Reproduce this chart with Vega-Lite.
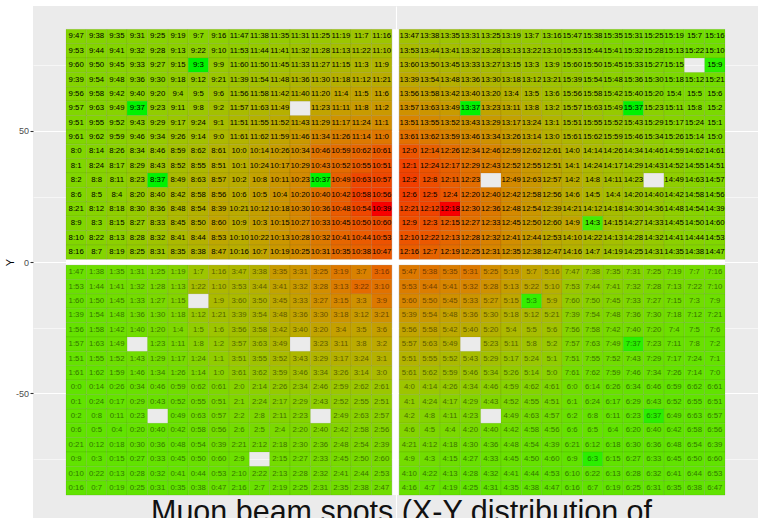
{
  "$schema": "https://vega.github.io/schema/vega-lite/v6.json",
  "width": 725,
  "height": 512.4,
  "autosize": {"type": "none"},
  "padding": {"left": 33, "top": 6, "right": 11, "bottom": 10},
  "background": "#ffffff",
  "config": {"view": {"fill": "#ebebeb", "stroke": null}},
  "title": {"text": "Muon beam spots (X-Y distribution of", "orient": "bottom", "anchor": "start", "frame": "group", "fontSize": 30.5, "font": "Liberation Sans", "fontWeight": "normal", "color": "#111111", "baseline": "alphabetic", "offset": 4, "dx": 118},
  "datasets": {
    "cols": [{"c":1,"x":-15.68},{"c":2,"x":-14.68},{"c":3,"x":-13.68},{"c":4,"x":-12.68},{"c":5,"x":-11.68},{"c":6,"x":-10.68},{"c":7,"x":-9.68},{"c":8,"x":-8.68},{"c":9,"x":-7.68},{"c":10,"x":-6.68},{"c":11,"x":-5.68},{"c":12,"x":-4.68},{"c":13,"x":-3.68},{"c":14,"x":-2.68},{"c":15,"x":-1.68},{"c":16,"x":-0.68},{"c":17,"x":0.68},{"c":18,"x":1.68},{"c":19,"x":2.68},{"c":20,"x":3.68},{"c":21,"x":4.68},{"c":22,"x":5.68},{"c":23,"x":6.68},{"c":24,"x":7.68},{"c":25,"x":8.68},{"c":26,"x":9.68},{"c":27,"x":10.68},{"c":28,"x":11.68},{"c":29,"x":12.68},{"c":30,"x":13.68},{"c":31,"x":14.68},{"c":32,"x":15.68}],
    "rows": [{"r":1,"y":85.96},{"r":2,"y":80.49},{"r":3,"y":75.01},{"r":4,"y":69.54},{"r":5,"y":64.06},{"r":6,"y":58.59},{"r":7,"y":53.11},{"r":8,"y":47.64},{"r":9,"y":42.16},{"r":10,"y":36.69},{"r":11,"y":31.21},{"r":12,"y":25.74},{"r":13,"y":20.26},{"r":14,"y":14.79},{"r":15,"y":9.31},{"r":16,"y":3.84},{"r":17,"y":-3.84},{"r":18,"y":-9.31},{"r":19,"y":-14.79},{"r":20,"y":-20.26},{"r":21,"y":-25.74},{"r":22,"y":-31.21},{"r":23,"y":-36.69},{"r":24,"y":-42.16},{"r":25,"y":-47.64},{"r":26,"y":-53.11},{"r":27,"y":-58.59},{"r":28,"y":-64.06},{"r":29,"y":-69.54},{"r":30,"y":-75.01},{"r":31,"y":-80.49},{"r":32,"y":-85.96}],
    "cells": [
{"r":1,"c":1,"l":"9:47","v":20},{"r":1,"c":2,"l":"9:38","v":20},{"r":1,"c":3,"l":"9:35","v":20},{"r":1,"c":4,"l":"9:31","v":21},{"r":1,"c":5,"l":"9:25","v":21},{"r":1,"c":6,"l":"9:19","v":22},{"r":1,"c":7,"l":"9:7","v":21},{"r":1,"c":8,"l":"9:16","v":23},{"r":1,"c":9,"l":"11:47","v":22},{"r":1,"c":10,"l":"11:38","v":24},{"r":1,"c":11,"l":"11:35","v":26},{"r":1,"c":12,"l":"11:31","v":27},{"r":1,"c":13,"l":"11:25","v":28},{"r":1,"c":14,"l":"11:19","v":29},{"r":1,"c":15,"l":"11:7","v":30},{"r":1,"c":16,"l":"11:16","v":30},{"r":1,"c":17,"l":"13:47","v":32},{"r":1,"c":18,"l":"13:38","v":31},{"r":1,"c":19,"l":"13:35","v":30},{"r":1,"c":20,"l":"13:31","v":29},{"r":1,"c":21,"l":"13:25","v":28},{"r":1,"c":22,"l":"13:19","v":27},{"r":1,"c":23,"l":"13:7","v":26},{"r":1,"c":24,"l":"13:16","v":24},{"r":1,"c":25,"l":"15:47","v":22},{"r":1,"c":26,"l":"15:38","v":20},{"r":1,"c":27,"l":"15:35","v":18},{"r":1,"c":28,"l":"15:31","v":17},{"r":1,"c":29,"l":"15:25","v":16},{"r":1,"c":30,"l":"15:19","v":15},{"r":1,"c":31,"l":"15:7","v":14},{"r":1,"c":32,"l":"15:16","v":13},
{"r":2,"c":1,"l":"9:53","v":20},{"r":2,"c":2,"l":"9:44","v":20},{"r":2,"c":3,"l":"9:41","v":20},{"r":2,"c":4,"l":"9:32","v":21},{"r":2,"c":5,"l":"9:28","v":22},{"r":2,"c":6,"l":"9:13","v":23},{"r":2,"c":7,"l":"9:22","v":23},{"r":2,"c":8,"l":"9:10","v":25},{"r":2,"c":9,"l":"11:53","v":25},{"r":2,"c":10,"l":"11:44","v":27},{"r":2,"c":11,"l":"11:41","v":29},{"r":2,"c":12,"l":"11:32","v":31},{"r":2,"c":13,"l":"11:28","v":32},{"r":2,"c":14,"l":"11:13","v":34},{"r":2,"c":15,"l":"11:22","v":35},{"r":2,"c":16,"l":"11:10","v":35},{"r":2,"c":17,"l":"13:53","v":36},{"r":2,"c":18,"l":"13:44","v":35},{"r":2,"c":19,"l":"13:41","v":34},{"r":2,"c":20,"l":"13:32","v":33},{"r":2,"c":21,"l":"13:28","v":31},{"r":2,"c":22,"l":"13:13","v":30},{"r":2,"c":23,"l":"13:22","v":29},{"r":2,"c":24,"l":"13:10","v":27},{"r":2,"c":25,"l":"15:53","v":24},{"r":2,"c":26,"l":"15:44","v":22},{"r":2,"c":27,"l":"15:41","v":20},{"r":2,"c":28,"l":"15:32","v":18},{"r":2,"c":29,"l":"15:28","v":17},{"r":2,"c":30,"l":"15:13","v":16},{"r":2,"c":31,"l":"15:22","v":15},{"r":2,"c":32,"l":"15:10","v":14},
{"r":3,"c":1,"l":"9:60","v":20},{"r":3,"c":2,"l":"9:50","v":20},{"r":3,"c":3,"l":"9:45","v":21},{"r":3,"c":4,"l":"9:33","v":22},{"r":3,"c":5,"l":"9:27","v":23},{"r":3,"c":6,"l":"9:15","v":24},{"r":3,"c":7,"l":"9:3","v":0},{"r":3,"c":8,"l":"9:9","v":27},{"r":3,"c":9,"l":"11:60","v":28},{"r":3,"c":10,"l":"11:50","v":30},{"r":3,"c":11,"l":"11:45","v":32},{"r":3,"c":12,"l":"11:33","v":34},{"r":3,"c":13,"l":"11:27","v":36},{"r":3,"c":14,"l":"11:15","v":38},{"r":3,"c":15,"l":"11:3","v":39},{"r":3,"c":16,"l":"11:9","v":40},{"r":3,"c":17,"l":"13:60","v":41},{"r":3,"c":18,"l":"13:50","v":40},{"r":3,"c":19,"l":"13:45","v":38},{"r":3,"c":20,"l":"13:33","v":37},{"r":3,"c":21,"l":"13:27","v":35},{"r":3,"c":22,"l":"13:15","v":33},{"r":3,"c":23,"l":"13:3","v":31},{"r":3,"c":24,"l":"13:9","v":29},{"r":3,"c":25,"l":"15:60","v":26},{"r":3,"c":26,"l":"15:50","v":24},{"r":3,"c":27,"l":"15:45","v":22},{"r":3,"c":28,"l":"15:33","v":20},{"r":3,"c":29,"l":"15:27","v":18},{"r":3,"c":30,"l":"15:15","v":17},{"r":3,"c":32,"l":"15:9","v":2},
{"r":4,"c":1,"l":"9:39","v":20},{"r":4,"c":2,"l":"9:54","v":20},{"r":4,"c":3,"l":"9:48","v":21},{"r":4,"c":4,"l":"9:36","v":22},{"r":4,"c":5,"l":"9:30","v":23},{"r":4,"c":6,"l":"9:18","v":25},{"r":4,"c":7,"l":"9:12","v":26},{"r":4,"c":8,"l":"9:21","v":29},{"r":4,"c":9,"l":"11:39","v":31},{"r":4,"c":10,"l":"11:54","v":33},{"r":4,"c":11,"l":"11:48","v":36},{"r":4,"c":12,"l":"11:36","v":39},{"r":4,"c":13,"l":"11:30","v":41},{"r":4,"c":14,"l":"11:18","v":43},{"r":4,"c":15,"l":"11:12","v":44},{"r":4,"c":16,"l":"11:21","v":45},{"r":4,"c":17,"l":"13:39","v":47},{"r":4,"c":18,"l":"13:54","v":45},{"r":4,"c":19,"l":"13:48","v":43},{"r":4,"c":20,"l":"13:36","v":41},{"r":4,"c":21,"l":"13:30","v":39},{"r":4,"c":22,"l":"13:18","v":37},{"r":4,"c":23,"l":"13:12","v":34},{"r":4,"c":24,"l":"13:21","v":31},{"r":4,"c":25,"l":"15:39","v":28},{"r":4,"c":26,"l":"15:54","v":25},{"r":4,"c":27,"l":"15:48","v":23},{"r":4,"c":28,"l":"15:36","v":21},{"r":4,"c":29,"l":"15:30","v":19},{"r":4,"c":30,"l":"15:18","v":17},{"r":4,"c":31,"l":"15:12","v":16},{"r":4,"c":32,"l":"15:21","v":15},
{"r":5,"c":1,"l":"9:56","v":20},{"r":5,"c":2,"l":"9:58","v":20},{"r":5,"c":3,"l":"9:42","v":21},{"r":5,"c":4,"l":"9:40","v":22},{"r":5,"c":5,"l":"9:20","v":24},{"r":5,"c":6,"l":"9:4","v":26},{"r":5,"c":7,"l":"9:5","v":27},{"r":5,"c":8,"l":"9:6","v":31},{"r":5,"c":9,"l":"11:56","v":33},{"r":5,"c":10,"l":"11:58","v":36},{"r":5,"c":11,"l":"11:42","v":39},{"r":5,"c":12,"l":"11:40","v":42},{"r":5,"c":13,"l":"11:20","v":46},{"r":5,"c":14,"l":"11:4","v":49},{"r":5,"c":15,"l":"11:5","v":50},{"r":5,"c":16,"l":"11:6","v":51},{"r":5,"c":17,"l":"13:56","v":53},{"r":5,"c":18,"l":"13:58","v":51},{"r":5,"c":19,"l":"13:42","v":49},{"r":5,"c":20,"l":"13:40","v":47},{"r":5,"c":21,"l":"13:20","v":44},{"r":5,"c":22,"l":"13:4","v":42},{"r":5,"c":23,"l":"13:5","v":38},{"r":5,"c":24,"l":"13:6","v":34},{"r":5,"c":25,"l":"15:56","v":31},{"r":5,"c":26,"l":"15:58","v":28},{"r":5,"c":27,"l":"15:42","v":25},{"r":5,"c":28,"l":"15:40","v":22},{"r":5,"c":29,"l":"15:20","v":20},{"r":5,"c":30,"l":"15:4","v":18},{"r":5,"c":31,"l":"15:5","v":17},{"r":5,"c":32,"l":"15:6","v":16},
{"r":6,"c":1,"l":"9:57","v":19},{"r":6,"c":2,"l":"9:63","v":20},{"r":6,"c":3,"l":"9:49","v":21},{"r":6,"c":4,"l":"9:37","v":0},{"r":6,"c":5,"l":"9:23","v":25},{"r":6,"c":6,"l":"9:11","v":27},{"r":6,"c":7,"l":"9:8","v":29},{"r":6,"c":8,"l":"9:2","v":33},{"r":6,"c":9,"l":"11:57","v":36},{"r":6,"c":10,"l":"11:63","v":39},{"r":6,"c":11,"l":"11:49","v":43},{"r":6,"c":13,"l":"11:23","v":50},{"r":6,"c":14,"l":"11:11","v":54},{"r":6,"c":15,"l":"11:8","v":55},{"r":6,"c":16,"l":"11:2","v":56},{"r":6,"c":17,"l":"13:57","v":60},{"r":6,"c":18,"l":"13:63","v":58},{"r":6,"c":19,"l":"13:49","v":55},{"r":6,"c":20,"l":"13:37","v":0},{"r":6,"c":21,"l":"13:23","v":50},{"r":6,"c":22,"l":"13:11","v":47},{"r":6,"c":23,"l":"13:8","v":42},{"r":6,"c":24,"l":"13:2","v":37},{"r":6,"c":25,"l":"15:57","v":34},{"r":6,"c":26,"l":"15:63","v":30},{"r":6,"c":27,"l":"15:49","v":27},{"r":6,"c":28,"l":"15:37","v":0},{"r":6,"c":29,"l":"15:23","v":22},{"r":6,"c":30,"l":"15:11","v":20},{"r":6,"c":31,"l":"15:8","v":18},{"r":6,"c":32,"l":"15:2","v":17},
{"r":7,"c":1,"l":"9:51","v":19},{"r":7,"c":2,"l":"9:55","v":20},{"r":7,"c":3,"l":"9:52","v":21},{"r":7,"c":4,"l":"9:43","v":23},{"r":7,"c":5,"l":"9:29","v":26},{"r":7,"c":6,"l":"9:17","v":29},{"r":7,"c":7,"l":"9:24","v":31},{"r":7,"c":8,"l":"9:1","v":35},{"r":7,"c":9,"l":"11:51","v":38},{"r":7,"c":10,"l":"11:55","v":42},{"r":7,"c":11,"l":"11:52","v":46},{"r":7,"c":12,"l":"11:43","v":50},{"r":7,"c":13,"l":"11:29","v":55},{"r":7,"c":14,"l":"11:17","v":59},{"r":7,"c":15,"l":"11:24","v":61},{"r":7,"c":16,"l":"11:1","v":62},{"r":7,"c":17,"l":"13:51","v":67},{"r":7,"c":18,"l":"13:55","v":64},{"r":7,"c":19,"l":"13:52","v":61},{"r":7,"c":20,"l":"13:43","v":58},{"r":7,"c":21,"l":"13:29","v":55},{"r":7,"c":22,"l":"13:17","v":51},{"r":7,"c":23,"l":"13:24","v":46},{"r":7,"c":24,"l":"13:1","v":40},{"r":7,"c":25,"l":"15:51","v":36},{"r":7,"c":26,"l":"15:55","v":32},{"r":7,"c":27,"l":"15:52","v":29},{"r":7,"c":28,"l":"15:43","v":26},{"r":7,"c":29,"l":"15:29","v":23},{"r":7,"c":30,"l":"15:17","v":21},{"r":7,"c":31,"l":"15:24","v":19},{"r":7,"c":32,"l":"15:1","v":17},
{"r":8,"c":1,"l":"9:61","v":19},{"r":8,"c":2,"l":"9:62","v":20},{"r":8,"c":3,"l":"9:59","v":22},{"r":8,"c":4,"l":"9:46","v":24},{"r":8,"c":5,"l":"9:34","v":27},{"r":8,"c":6,"l":"9:26","v":31},{"r":8,"c":7,"l":"9:14","v":33},{"r":8,"c":8,"l":"9:0","v":38},{"r":8,"c":9,"l":"11:61","v":41},{"r":8,"c":10,"l":"11:62","v":45},{"r":8,"c":11,"l":"11:59","v":50},{"r":8,"c":12,"l":"11:46","v":56},{"r":8,"c":13,"l":"11:34","v":65},{"r":8,"c":14,"l":"11:26","v":69},{"r":8,"c":15,"l":"11:14","v":72},{"r":8,"c":16,"l":"11:0","v":73},{"r":8,"c":17,"l":"13:61","v":76},{"r":8,"c":18,"l":"13:62","v":72},{"r":8,"c":19,"l":"13:59","v":68},{"r":8,"c":20,"l":"13:46","v":64},{"r":8,"c":21,"l":"13:34","v":60},{"r":8,"c":22,"l":"13:26","v":55},{"r":8,"c":23,"l":"13:14","v":49},{"r":8,"c":24,"l":"13:0","v":43},{"r":8,"c":25,"l":"15:61","v":39},{"r":8,"c":26,"l":"15:62","v":35},{"r":8,"c":27,"l":"15:59","v":31},{"r":8,"c":28,"l":"15:46","v":28},{"r":8,"c":29,"l":"15:34","v":25},{"r":8,"c":30,"l":"15:26","v":22},{"r":8,"c":31,"l":"15:14","v":20},{"r":8,"c":32,"l":"15:0","v":18},
{"r":9,"c":1,"l":"8:0","v":19},{"r":9,"c":2,"l":"8:14","v":20},{"r":9,"c":3,"l":"8:26","v":22},{"r":9,"c":4,"l":"8:34","v":25},{"r":9,"c":5,"l":"8:46","v":28},{"r":9,"c":6,"l":"8:59","v":33},{"r":9,"c":7,"l":"8:62","v":36},{"r":9,"c":8,"l":"8:61","v":41},{"r":9,"c":9,"l":"10:0","v":43},{"r":9,"c":10,"l":"10:14","v":48},{"r":9,"c":11,"l":"10:26","v":54},{"r":9,"c":12,"l":"10:34","v":60},{"r":9,"c":13,"l":"10:46","v":74},{"r":9,"c":14,"l":"10:59","v":77},{"r":9,"c":15,"l":"10:62","v":80},{"r":9,"c":16,"l":"10:61","v":84},{"r":9,"c":17,"l":"12:0","v":86},{"r":9,"c":18,"l":"12:14","v":82},{"r":9,"c":19,"l":"12:26","v":77},{"r":9,"c":20,"l":"12:34","v":72},{"r":9,"c":21,"l":"12:46","v":67},{"r":9,"c":22,"l":"12:59","v":61},{"r":9,"c":23,"l":"12:62","v":54},{"r":9,"c":24,"l":"12:61","v":46},{"r":9,"c":25,"l":"14:0","v":42},{"r":9,"c":26,"l":"14:14","v":37},{"r":9,"c":27,"l":"14:26","v":33},{"r":9,"c":28,"l":"14:34","v":29},{"r":9,"c":29,"l":"14:46","v":26},{"r":9,"c":30,"l":"14:59","v":23},{"r":9,"c":31,"l":"14:62","v":21},{"r":9,"c":32,"l":"14:61","v":19},
{"r":10,"c":1,"l":"8:1","v":19},{"r":10,"c":2,"l":"8:24","v":21},{"r":10,"c":3,"l":"8:17","v":23},{"r":10,"c":4,"l":"8:29","v":26},{"r":10,"c":5,"l":"8:43","v":30},{"r":10,"c":6,"l":"8:52","v":35},{"r":10,"c":7,"l":"8:55","v":38},{"r":10,"c":8,"l":"8:51","v":43},{"r":10,"c":9,"l":"10:1","v":44},{"r":10,"c":10,"l":"10:24","v":50},{"r":10,"c":11,"l":"10:17","v":56},{"r":10,"c":12,"l":"10:29","v":63},{"r":10,"c":13,"l":"10:43","v":74},{"r":10,"c":14,"l":"10:52","v":78},{"r":10,"c":15,"l":"10:55","v":84},{"r":10,"c":16,"l":"10:51","v":88},{"r":10,"c":17,"l":"12:1","v":91},{"r":10,"c":18,"l":"12:24","v":87},{"r":10,"c":19,"l":"12:17","v":82},{"r":10,"c":20,"l":"12:29","v":76},{"r":10,"c":21,"l":"12:43","v":70},{"r":10,"c":22,"l":"12:52","v":63},{"r":10,"c":23,"l":"12:55","v":56},{"r":10,"c":24,"l":"12:51","v":48},{"r":10,"c":25,"l":"14:1","v":44},{"r":10,"c":26,"l":"14:24","v":38},{"r":10,"c":27,"l":"14:17","v":34},{"r":10,"c":28,"l":"14:29","v":30},{"r":10,"c":29,"l":"14:43","v":27},{"r":10,"c":30,"l":"14:52","v":24},{"r":10,"c":31,"l":"14:55","v":21},{"r":10,"c":32,"l":"14:51","v":19},
{"r":11,"c":1,"l":"8:2","v":19},{"r":11,"c":2,"l":"8:8","v":21},{"r":11,"c":3,"l":"8:11","v":23},{"r":11,"c":4,"l":"8:23","v":26},{"r":11,"c":5,"l":"8:37","v":0},{"r":11,"c":6,"l":"8:49","v":36},{"r":11,"c":7,"l":"8:63","v":40},{"r":11,"c":8,"l":"8:57","v":45},{"r":11,"c":9,"l":"10:2","v":45},{"r":11,"c":10,"l":"10:8","v":51},{"r":11,"c":11,"l":"10:11","v":57},{"r":11,"c":12,"l":"10:23","v":64},{"r":11,"c":13,"l":"10:37","v":0},{"r":11,"c":14,"l":"10:49","v":82},{"r":11,"c":15,"l":"10:63","v":90},{"r":11,"c":16,"l":"10:57","v":90},{"r":11,"c":17,"l":"12:2","v":92},{"r":11,"c":18,"l":"12:8","v":88},{"r":11,"c":19,"l":"12:11","v":83},{"r":11,"c":20,"l":"12:23","v":77},{"r":11,"c":22,"l":"12:49","v":64},{"r":11,"c":23,"l":"12:63","v":57},{"r":11,"c":24,"l":"12:57","v":49},{"r":11,"c":25,"l":"14:2","v":45},{"r":11,"c":26,"l":"14:8","v":39},{"r":11,"c":27,"l":"14:11","v":35},{"r":11,"c":28,"l":"14:23","v":31},{"r":11,"c":30,"l":"14:49","v":24},{"r":11,"c":31,"l":"14:63","v":21},{"r":11,"c":32,"l":"14:57","v":19},
{"r":12,"c":1,"l":"8:6","v":19},{"r":12,"c":2,"l":"8:5","v":21},{"r":12,"c":3,"l":"8:4","v":23},{"r":12,"c":4,"l":"8:20","v":27},{"r":12,"c":5,"l":"8:40","v":31},{"r":12,"c":6,"l":"8:42","v":37},{"r":12,"c":7,"l":"8:58","v":41},{"r":12,"c":8,"l":"8:56","v":47},{"r":12,"c":9,"l":"10:6","v":46},{"r":12,"c":10,"l":"10:5","v":52},{"r":12,"c":11,"l":"10:4","v":58},{"r":12,"c":12,"l":"10:20","v":66},{"r":12,"c":13,"l":"10:40","v":75},{"r":12,"c":14,"l":"10:42","v":83},{"r":12,"c":15,"l":"10:58","v":92},{"r":12,"c":16,"l":"10:56","v":92},{"r":12,"c":17,"l":"12:6","v":92},{"r":12,"c":18,"l":"12:5","v":90},{"r":12,"c":19,"l":"12:4","v":85},{"r":12,"c":20,"l":"12:20","v":78},{"r":12,"c":21,"l":"12:40","v":71},{"r":12,"c":22,"l":"12:42","v":64},{"r":12,"c":23,"l":"12:58","v":57},{"r":12,"c":24,"l":"12:56","v":49},{"r":12,"c":25,"l":"14:6","v":45},{"r":12,"c":26,"l":"14:5","v":39},{"r":12,"c":27,"l":"14:4","v":35},{"r":12,"c":28,"l":"14:20","v":31},{"r":12,"c":29,"l":"14:40","v":28},{"r":12,"c":30,"l":"14:42","v":24},{"r":12,"c":31,"l":"14:58","v":21},{"r":12,"c":32,"l":"14:56","v":19},
{"r":13,"c":1,"l":"8:21","v":19},{"r":13,"c":2,"l":"8:12","v":21},{"r":13,"c":3,"l":"8:18","v":24},{"r":13,"c":4,"l":"8:30","v":27},{"r":13,"c":5,"l":"8:36","v":32},{"r":13,"c":6,"l":"8:48","v":38},{"r":13,"c":7,"l":"8:54","v":42},{"r":13,"c":8,"l":"8:39","v":48},{"r":13,"c":9,"l":"10:21","v":46},{"r":13,"c":10,"l":"10:12","v":52},{"r":13,"c":11,"l":"10:18","v":58},{"r":13,"c":12,"l":"10:30","v":66},{"r":13,"c":13,"l":"10:36","v":76},{"r":13,"c":14,"l":"10:48","v":84},{"r":13,"c":15,"l":"10:54","v":90},{"r":13,"c":16,"l":"10:39","v":100},{"r":13,"c":17,"l":"12:21","v":90},{"r":13,"c":18,"l":"12:12","v":91},{"r":13,"c":19,"l":"12:18","v":100},{"r":13,"c":20,"l":"12:30","v":78},{"r":13,"c":21,"l":"12:36","v":72},{"r":13,"c":22,"l":"12:48","v":64},{"r":13,"c":23,"l":"12:54","v":57},{"r":13,"c":24,"l":"12:39","v":49},{"r":13,"c":25,"l":"14:21","v":45},{"r":13,"c":26,"l":"14:12","v":39},{"r":13,"c":27,"l":"14:18","v":35},{"r":13,"c":28,"l":"14:30","v":31},{"r":13,"c":29,"l":"14:36","v":28},{"r":13,"c":30,"l":"14:48","v":24},{"r":13,"c":31,"l":"14:54","v":21},{"r":13,"c":32,"l":"14:39","v":19},
{"r":14,"c":1,"l":"8:9","v":19},{"r":14,"c":2,"l":"8:3","v":21},{"r":14,"c":3,"l":"8:15","v":24},{"r":14,"c":4,"l":"8:27","v":27},{"r":14,"c":5,"l":"8:33","v":32},{"r":14,"c":6,"l":"8:45","v":38},{"r":14,"c":7,"l":"8:50","v":43},{"r":14,"c":8,"l":"8:60","v":50},{"r":14,"c":9,"l":"10:9","v":46},{"r":14,"c":10,"l":"10:3","v":52},{"r":14,"c":11,"l":"10:15","v":58},{"r":14,"c":12,"l":"10:27","v":65},{"r":14,"c":13,"l":"10:33","v":74},{"r":14,"c":14,"l":"10:45","v":82},{"r":14,"c":15,"l":"10:50","v":86},{"r":14,"c":16,"l":"10:60","v":88},{"r":14,"c":17,"l":"12:9","v":88},{"r":14,"c":18,"l":"12:3","v":87},{"r":14,"c":19,"l":"12:15","v":83},{"r":14,"c":20,"l":"12:27","v":76},{"r":14,"c":21,"l":"12:33","v":70},{"r":14,"c":22,"l":"12:45","v":63},{"r":14,"c":23,"l":"12:50","v":56},{"r":14,"c":24,"l":"12:60","v":48},{"r":14,"c":25,"l":"14:9","v":50},{"r":14,"c":26,"l":"14:3","v":5},{"r":14,"c":27,"l":"14:15","v":35},{"r":14,"c":28,"l":"14:27","v":31},{"r":14,"c":29,"l":"14:33","v":28},{"r":14,"c":30,"l":"14:45","v":24},{"r":14,"c":31,"l":"14:50","v":21},{"r":14,"c":32,"l":"14:60","v":19},
{"r":15,"c":1,"l":"8:10","v":19},{"r":15,"c":2,"l":"8:22","v":21},{"r":15,"c":3,"l":"8:13","v":23},{"r":15,"c":4,"l":"8:28","v":27},{"r":15,"c":5,"l":"8:32","v":31},{"r":15,"c":6,"l":"8:41","v":37},{"r":15,"c":7,"l":"8:44","v":42},{"r":15,"c":8,"l":"8:53","v":48},{"r":15,"c":9,"l":"10:10","v":45},{"r":15,"c":10,"l":"10:22","v":51},{"r":15,"c":11,"l":"10:13","v":57},{"r":15,"c":12,"l":"10:28","v":64},{"r":15,"c":13,"l":"10:32","v":72},{"r":15,"c":14,"l":"10:41","v":80},{"r":15,"c":15,"l":"10:44","v":84},{"r":15,"c":16,"l":"10:53","v":87},{"r":15,"c":17,"l":"12:10","v":86},{"r":15,"c":18,"l":"12:22","v":85},{"r":15,"c":19,"l":"12:13","v":80},{"r":15,"c":20,"l":"12:28","v":74},{"r":15,"c":21,"l":"12:32","v":68},{"r":15,"c":22,"l":"12:41","v":62},{"r":15,"c":23,"l":"12:44","v":55},{"r":15,"c":24,"l":"12:53","v":47},{"r":15,"c":25,"l":"14:10","v":44},{"r":15,"c":26,"l":"14:22","v":38},{"r":15,"c":27,"l":"14:13","v":34},{"r":15,"c":28,"l":"14:28","v":30},{"r":15,"c":29,"l":"14:32","v":27},{"r":15,"c":30,"l":"14:41","v":23},{"r":15,"c":31,"l":"14:44","v":21},{"r":15,"c":32,"l":"14:53","v":19},
{"r":16,"c":1,"l":"8:16","v":18},{"r":16,"c":2,"l":"8:7","v":20},{"r":16,"c":3,"l":"8:19","v":23},{"r":16,"c":4,"l":"8:25","v":26},{"r":16,"c":5,"l":"8:31","v":30},{"r":16,"c":6,"l":"8:35","v":36},{"r":16,"c":7,"l":"8:38","v":40},{"r":16,"c":8,"l":"8:47","v":46},{"r":16,"c":9,"l":"10:16","v":44},{"r":16,"c":10,"l":"10:7","v":50},{"r":16,"c":11,"l":"10:19","v":56},{"r":16,"c":12,"l":"10:25","v":63},{"r":16,"c":13,"l":"10:31","v":70},{"r":16,"c":14,"l":"10:35","v":78},{"r":16,"c":15,"l":"10:38","v":81},{"r":16,"c":16,"l":"10:47","v":85},{"r":16,"c":17,"l":"12:16","v":83},{"r":16,"c":18,"l":"12:7","v":81},{"r":16,"c":19,"l":"12:19","v":77},{"r":16,"c":20,"l":"12:25","v":72},{"r":16,"c":21,"l":"12:31","v":66},{"r":16,"c":22,"l":"12:35","v":60},{"r":16,"c":23,"l":"12:38","v":53},{"r":16,"c":24,"l":"12:47","v":46},{"r":16,"c":25,"l":"14:16","v":42},{"r":16,"c":26,"l":"14:7","v":36},{"r":16,"c":27,"l":"14:19","v":32},{"r":16,"c":28,"l":"14:25","v":29},{"r":16,"c":29,"l":"14:31","v":26},{"r":16,"c":30,"l":"14:35","v":22},{"r":16,"c":31,"l":"14:38","v":20},{"r":16,"c":32,"l":"14:47","v":18},
{"r":17,"c":1,"l":"1:47","v":12},{"r":17,"c":2,"l":"1:38","v":13},{"r":17,"c":3,"l":"1:35","v":14},{"r":17,"c":4,"l":"1:31","v":15},{"r":17,"c":5,"l":"1:25","v":17},{"r":17,"c":6,"l":"1:19","v":20},{"r":17,"c":7,"l":"1:7","v":30},{"r":17,"c":8,"l":"1:16","v":38},{"r":17,"c":9,"l":"3:47","v":38},{"r":17,"c":10,"l":"3:38","v":42},{"r":17,"c":11,"l":"3:35","v":55},{"r":17,"c":12,"l":"3:31","v":58},{"r":17,"c":13,"l":"3:25","v":65},{"r":17,"c":14,"l":"3:19","v":72},{"r":17,"c":15,"l":"3:7","v":68},{"r":17,"c":16,"l":"3:16","v":80},{"r":17,"c":17,"l":"5:47","v":72},{"r":17,"c":18,"l":"5:38","v":74},{"r":17,"c":19,"l":"5:35","v":70},{"r":17,"c":20,"l":"5:31","v":72},{"r":17,"c":21,"l":"5:25","v":62},{"r":17,"c":22,"l":"5:19","v":56},{"r":17,"c":23,"l":"5:7","v":50},{"r":17,"c":24,"l":"5:16","v":45},{"r":17,"c":25,"l":"7:47","v":32},{"r":17,"c":26,"l":"7:38","v":26},{"r":17,"c":27,"l":"7:35","v":22},{"r":17,"c":28,"l":"7:31","v":20},{"r":17,"c":29,"l":"7:25","v":18},{"r":17,"c":30,"l":"7:19","v":16},{"r":17,"c":31,"l":"7:7","v":15},{"r":17,"c":32,"l":"7:16","v":14},
{"r":18,"c":1,"l":"1:53","v":12},{"r":18,"c":2,"l":"1:44","v":13},{"r":18,"c":3,"l":"1:41","v":14},{"r":18,"c":4,"l":"1:32","v":15},{"r":18,"c":5,"l":"1:28","v":17},{"r":18,"c":6,"l":"1:13","v":20},{"r":18,"c":7,"l":"1:22","v":35},{"r":18,"c":8,"l":"1:10","v":38},{"r":18,"c":9,"l":"3:53","v":38},{"r":18,"c":10,"l":"3:44","v":42},{"r":18,"c":11,"l":"3:41","v":50},{"r":18,"c":12,"l":"3:32","v":55},{"r":18,"c":13,"l":"3:28","v":62},{"r":18,"c":14,"l":"3:13","v":70},{"r":18,"c":15,"l":"3:22","v":78},{"r":18,"c":16,"l":"3:10","v":75},{"r":18,"c":17,"l":"5:53","v":70},{"r":18,"c":18,"l":"5:44","v":70},{"r":18,"c":19,"l":"5:41","v":66},{"r":18,"c":20,"l":"5:32","v":66},{"r":18,"c":21,"l":"5:28","v":60},{"r":18,"c":22,"l":"5:13","v":53},{"r":18,"c":23,"l":"5:22","v":48},{"r":18,"c":24,"l":"5:10","v":43},{"r":18,"c":25,"l":"7:53","v":29},{"r":18,"c":26,"l":"7:44","v":24},{"r":18,"c":27,"l":"7:41","v":21},{"r":18,"c":28,"l":"7:32","v":19},{"r":18,"c":29,"l":"7:28","v":17},{"r":18,"c":30,"l":"7:13","v":16},{"r":18,"c":31,"l":"7:22","v":15},{"r":18,"c":32,"l":"7:10","v":14},
{"r":19,"c":1,"l":"1:60","v":12},{"r":19,"c":2,"l":"1:50","v":13},{"r":19,"c":3,"l":"1:45","v":14},{"r":19,"c":4,"l":"1:33","v":15},{"r":19,"c":5,"l":"1:27","v":17},{"r":19,"c":6,"l":"1:15","v":20},{"r":19,"c":8,"l":"1:9","v":37},{"r":19,"c":9,"l":"3:60","v":37},{"r":19,"c":10,"l":"3:50","v":40},{"r":19,"c":11,"l":"3:45","v":47},{"r":19,"c":12,"l":"3:33","v":52},{"r":19,"c":13,"l":"3:27","v":60},{"r":19,"c":14,"l":"3:15","v":65},{"r":19,"c":15,"l":"3:3","v":60},{"r":19,"c":16,"l":"3:9","v":72},{"r":19,"c":17,"l":"5:60","v":66},{"r":19,"c":18,"l":"5:50","v":63},{"r":19,"c":19,"l":"5:45","v":60},{"r":19,"c":20,"l":"5:33","v":58},{"r":19,"c":21,"l":"5:27","v":53},{"r":19,"c":22,"l":"5:15","v":48},{"r":19,"c":23,"l":"5:3","v":3},{"r":19,"c":24,"l":"5:9","v":40},{"r":19,"c":25,"l":"7:60","v":26},{"r":19,"c":26,"l":"7:50","v":22},{"r":19,"c":27,"l":"7:45","v":20},{"r":19,"c":28,"l":"7:33","v":18},{"r":19,"c":29,"l":"7:27","v":16},{"r":19,"c":30,"l":"7:15","v":15},{"r":19,"c":31,"l":"7:3","v":14},{"r":19,"c":32,"l":"7:9","v":13},
{"r":20,"c":1,"l":"1:39","v":11},{"r":20,"c":2,"l":"1:54","v":12},{"r":20,"c":3,"l":"1:48","v":13},{"r":20,"c":4,"l":"1:36","v":15},{"r":20,"c":5,"l":"1:30","v":16},{"r":20,"c":6,"l":"1:18","v":19},{"r":20,"c":7,"l":"1:12","v":28},{"r":20,"c":8,"l":"1:21","v":33},{"r":20,"c":9,"l":"3:39","v":35},{"r":20,"c":10,"l":"3:54","v":38},{"r":20,"c":11,"l":"3:48","v":45},{"r":20,"c":12,"l":"3:36","v":50},{"r":20,"c":13,"l":"3:30","v":55},{"r":20,"c":14,"l":"3:18","v":58},{"r":20,"c":15,"l":"3:12","v":55},{"r":20,"c":16,"l":"3:21","v":60},{"r":20,"c":17,"l":"5:39","v":56},{"r":20,"c":18,"l":"5:54","v":56},{"r":20,"c":19,"l":"5:48","v":51},{"r":20,"c":20,"l":"5:36","v":51},{"r":20,"c":21,"l":"5:30","v":46},{"r":20,"c":22,"l":"5:18","v":42},{"r":20,"c":23,"l":"5:12","v":38},{"r":20,"c":24,"l":"5:21","v":35},{"r":20,"c":25,"l":"7:39","v":23},{"r":20,"c":26,"l":"7:54","v":20},{"r":20,"c":27,"l":"7:48","v":18},{"r":20,"c":28,"l":"7:36","v":17},{"r":20,"c":29,"l":"7:30","v":15},{"r":20,"c":30,"l":"7:18","v":14},{"r":20,"c":31,"l":"7:12","v":13},{"r":20,"c":32,"l":"7:21","v":12},
{"r":21,"c":1,"l":"1:56","v":11},{"r":21,"c":2,"l":"1:58","v":12},{"r":21,"c":3,"l":"1:42","v":13},{"r":21,"c":4,"l":"1:40","v":14},{"r":21,"c":5,"l":"1:20","v":16},{"r":21,"c":6,"l":"1:4","v":18},{"r":21,"c":7,"l":"1:5","v":25},{"r":21,"c":8,"l":"1:6","v":30},{"r":21,"c":9,"l":"3:56","v":33},{"r":21,"c":10,"l":"3:58","v":36},{"r":21,"c":11,"l":"3:42","v":42},{"r":21,"c":12,"l":"3:40","v":46},{"r":21,"c":13,"l":"3:20","v":50},{"r":21,"c":14,"l":"3:4","v":52},{"r":21,"c":15,"l":"3:5","v":50},{"r":21,"c":16,"l":"3:6","v":52},{"r":21,"c":17,"l":"5:56","v":50},{"r":21,"c":18,"l":"5:58","v":50},{"r":21,"c":19,"l":"5:42","v":47},{"r":21,"c":20,"l":"5:40","v":45},{"r":21,"c":21,"l":"5:20","v":42},{"r":21,"c":22,"l":"5:4","v":38},{"r":21,"c":23,"l":"5:5","v":35},{"r":21,"c":24,"l":"5:6","v":32},{"r":21,"c":25,"l":"7:56","v":21},{"r":21,"c":26,"l":"7:58","v":18},{"r":21,"c":27,"l":"7:42","v":16},{"r":21,"c":28,"l":"7:40","v":15},{"r":21,"c":29,"l":"7:20","v":14},{"r":21,"c":30,"l":"7:4","v":13},{"r":21,"c":31,"l":"7:5","v":12},{"r":21,"c":32,"l":"7:6","v":12},
{"r":22,"c":1,"l":"1:57","v":11},{"r":22,"c":2,"l":"1:63","v":12},{"r":22,"c":3,"l":"1:49","v":13},{"r":22,"c":5,"l":"1:23","v":15},{"r":22,"c":6,"l":"1:11","v":17},{"r":22,"c":7,"l":"1:8","v":22},{"r":22,"c":8,"l":"1:2","v":27},{"r":22,"c":9,"l":"3:57","v":31},{"r":22,"c":10,"l":"3:63","v":34},{"r":22,"c":11,"l":"3:49","v":39},{"r":22,"c":13,"l":"3:23","v":45},{"r":22,"c":14,"l":"3:11","v":47},{"r":22,"c":15,"l":"3:8","v":46},{"r":22,"c":16,"l":"3:2","v":47},{"r":22,"c":17,"l":"5:57","v":45},{"r":22,"c":18,"l":"5:63","v":45},{"r":22,"c":19,"l":"5:49","v":42},{"r":22,"c":21,"l":"5:23","v":37},{"r":22,"c":22,"l":"5:11","v":35},{"r":22,"c":23,"l":"5:8","v":31},{"r":22,"c":24,"l":"5:2","v":28},{"r":22,"c":25,"l":"7:57","v":19},{"r":22,"c":26,"l":"7:63","v":16},{"r":22,"c":27,"l":"7:49","v":15},{"r":22,"c":28,"l":"7:37","v":2},{"r":22,"c":29,"l":"7:23","v":13},{"r":22,"c":30,"l":"7:11","v":12},{"r":22,"c":31,"l":"7:8","v":12},{"r":22,"c":32,"l":"7:2","v":11},
{"r":23,"c":1,"l":"1:51","v":11},{"r":23,"c":2,"l":"1:55","v":12},{"r":23,"c":3,"l":"1:52","v":13},{"r":23,"c":4,"l":"1:43","v":14},{"r":23,"c":5,"l":"1:29","v":15},{"r":23,"c":6,"l":"1:17","v":16},{"r":23,"c":7,"l":"1:24","v":20},{"r":23,"c":8,"l":"1:1","v":25},{"r":23,"c":9,"l":"3:51","v":29},{"r":23,"c":10,"l":"3:55","v":31},{"r":23,"c":11,"l":"3:52","v":36},{"r":23,"c":12,"l":"3:43","v":38},{"r":23,"c":13,"l":"3:29","v":40},{"r":23,"c":14,"l":"3:17","v":42},{"r":23,"c":15,"l":"3:24","v":42},{"r":23,"c":16,"l":"3:1","v":42},{"r":23,"c":17,"l":"5:51","v":41},{"r":23,"c":18,"l":"5:55","v":40},{"r":23,"c":19,"l":"5:52","v":37},{"r":23,"c":20,"l":"5:43","v":35},{"r":23,"c":21,"l":"5:29","v":33},{"r":23,"c":22,"l":"5:17","v":30},{"r":23,"c":23,"l":"5:24","v":28},{"r":23,"c":24,"l":"5:1","v":25},{"r":23,"c":25,"l":"7:51","v":17},{"r":23,"c":26,"l":"7:55","v":15},{"r":23,"c":27,"l":"7:52","v":14},{"r":23,"c":28,"l":"7:43","v":13},{"r":23,"c":29,"l":"7:29","v":12},{"r":23,"c":30,"l":"7:17","v":12},{"r":23,"c":31,"l":"7:24","v":11},{"r":23,"c":32,"l":"7:1","v":11},
{"r":24,"c":1,"l":"1:61","v":11},{"r":24,"c":2,"l":"1:62","v":11},{"r":24,"c":3,"l":"1:59","v":12},{"r":24,"c":4,"l":"1:46","v":13},{"r":24,"c":5,"l":"1:34","v":14},{"r":24,"c":6,"l":"1:26","v":15},{"r":24,"c":7,"l":"1:14","v":18},{"r":24,"c":8,"l":"1:0","v":22},{"r":24,"c":9,"l":"3:61","v":26},{"r":24,"c":10,"l":"3:62","v":28},{"r":24,"c":11,"l":"3:59","v":32},{"r":24,"c":12,"l":"3:46","v":34},{"r":24,"c":13,"l":"3:34","v":35},{"r":24,"c":14,"l":"3:26","v":37},{"r":24,"c":15,"l":"3:14","v":37},{"r":24,"c":16,"l":"3:0","v":37},{"r":24,"c":17,"l":"5:61","v":37},{"r":24,"c":18,"l":"5:62","v":35},{"r":24,"c":19,"l":"5:59","v":33},{"r":24,"c":20,"l":"5:46","v":31},{"r":24,"c":21,"l":"5:34","v":28},{"r":24,"c":22,"l":"5:26","v":26},{"r":24,"c":23,"l":"5:14","v":24},{"r":24,"c":24,"l":"5:0","v":22},{"r":24,"c":25,"l":"7:61","v":15},{"r":24,"c":26,"l":"7:62","v":14},{"r":24,"c":27,"l":"7:59","v":13},{"r":24,"c":28,"l":"7:46","v":12},{"r":24,"c":29,"l":"7:34","v":12},{"r":24,"c":30,"l":"7:26","v":11},{"r":24,"c":31,"l":"7:14","v":11},{"r":24,"c":32,"l":"7:0","v":10},
{"r":25,"c":1,"l":"0:0","v":10},{"r":25,"c":2,"l":"0:14","v":11},{"r":25,"c":3,"l":"0:26","v":11},{"r":25,"c":4,"l":"0:34","v":12},{"r":25,"c":5,"l":"0:46","v":13},{"r":25,"c":6,"l":"0:59","v":14},{"r":25,"c":7,"l":"0:62","v":16},{"r":25,"c":8,"l":"0:61","v":18},{"r":25,"c":9,"l":"2:0","v":21},{"r":25,"c":10,"l":"2:14","v":23},{"r":25,"c":11,"l":"2:26","v":26},{"r":25,"c":12,"l":"2:34","v":27},{"r":25,"c":13,"l":"2:46","v":28},{"r":25,"c":14,"l":"2:59","v":29},{"r":25,"c":15,"l":"2:62","v":29},{"r":25,"c":16,"l":"2:61","v":29},{"r":25,"c":17,"l":"4:0","v":30},{"r":25,"c":18,"l":"4:14","v":28},{"r":25,"c":19,"l":"4:26","v":27},{"r":25,"c":20,"l":"4:34","v":25},{"r":25,"c":21,"l":"4:46","v":23},{"r":25,"c":22,"l":"4:59","v":21},{"r":25,"c":23,"l":"4:62","v":20},{"r":25,"c":24,"l":"4:61","v":18},{"r":25,"c":25,"l":"6:0","v":14},{"r":25,"c":26,"l":"6:14","v":13},{"r":25,"c":27,"l":"6:26","v":12},{"r":25,"c":28,"l":"6:34","v":11},{"r":25,"c":29,"l":"6:46","v":11},{"r":25,"c":30,"l":"6:59","v":10},{"r":25,"c":31,"l":"6:62","v":10},{"r":25,"c":32,"l":"6:61","v":10},
{"r":26,"c":1,"l":"0:1","v":10},{"r":26,"c":2,"l":"0:24","v":10},{"r":26,"c":3,"l":"0:17","v":11},{"r":26,"c":4,"l":"0:29","v":12},{"r":26,"c":5,"l":"0:43","v":12},{"r":26,"c":6,"l":"0:52","v":13},{"r":26,"c":7,"l":"0:55","v":15},{"r":26,"c":8,"l":"0:51","v":17},{"r":26,"c":9,"l":"2:1","v":19},{"r":26,"c":10,"l":"2:24","v":20},{"r":26,"c":11,"l":"2:17","v":22},{"r":26,"c":12,"l":"2:29","v":23},{"r":26,"c":13,"l":"2:43","v":24},{"r":26,"c":14,"l":"2:52","v":25},{"r":26,"c":15,"l":"2:55","v":25},{"r":26,"c":16,"l":"2:51","v":25},{"r":26,"c":17,"l":"4:1","v":25},{"r":26,"c":18,"l":"4:24","v":23},{"r":26,"c":19,"l":"4:17","v":22},{"r":26,"c":20,"l":"4:29","v":20},{"r":26,"c":21,"l":"4:43","v":19},{"r":26,"c":22,"l":"4:52","v":18},{"r":26,"c":23,"l":"4:55","v":17},{"r":26,"c":24,"l":"4:51","v":16},{"r":26,"c":25,"l":"6:1","v":13},{"r":26,"c":26,"l":"6:24","v":12},{"r":26,"c":27,"l":"6:17","v":11},{"r":26,"c":28,"l":"6:29","v":11},{"r":26,"c":29,"l":"6:43","v":10},{"r":26,"c":30,"l":"6:52","v":10},{"r":26,"c":31,"l":"6:55","v":10},{"r":26,"c":32,"l":"6:51","v":10},
{"r":27,"c":1,"l":"0:2","v":10},{"r":27,"c":2,"l":"0:8","v":10},{"r":27,"c":3,"l":"0:11","v":11},{"r":27,"c":4,"l":"0:23","v":11},{"r":27,"c":6,"l":"0:49","v":12},{"r":27,"c":7,"l":"0:63","v":14},{"r":27,"c":8,"l":"0:57","v":16},{"r":27,"c":9,"l":"2:2","v":17},{"r":27,"c":10,"l":"2:8","v":18},{"r":27,"c":11,"l":"2:11","v":20},{"r":27,"c":12,"l":"2:23","v":20},{"r":27,"c":14,"l":"2:49","v":22},{"r":27,"c":15,"l":"2:63","v":22},{"r":27,"c":16,"l":"2:57","v":22},{"r":27,"c":17,"l":"4:2","v":23},{"r":27,"c":18,"l":"4:8","v":20},{"r":27,"c":19,"l":"4:11","v":19},{"r":27,"c":20,"l":"4:23","v":18},{"r":27,"c":22,"l":"4:49","v":16},{"r":27,"c":23,"l":"4:63","v":15},{"r":27,"c":24,"l":"4:57","v":14},{"r":27,"c":25,"l":"6:2","v":12},{"r":27,"c":26,"l":"6:8","v":11},{"r":27,"c":27,"l":"6:11","v":11},{"r":27,"c":28,"l":"6:23","v":10},{"r":27,"c":29,"l":"6:37","v":2},{"r":27,"c":30,"l":"6:49","v":10},{"r":27,"c":31,"l":"6:63","v":10},{"r":27,"c":32,"l":"6:57","v":10},
{"r":28,"c":1,"l":"0:6","v":10},{"r":28,"c":2,"l":"0:5","v":10},{"r":28,"c":3,"l":"0:4","v":10},{"r":28,"c":4,"l":"0:20","v":11},{"r":28,"c":5,"l":"0:40","v":11},{"r":28,"c":6,"l":"0:42","v":12},{"r":28,"c":7,"l":"0:58","v":13},{"r":28,"c":8,"l":"0:56","v":15},{"r":28,"c":9,"l":"2:6","v":15},{"r":28,"c":10,"l":"2:5","v":16},{"r":28,"c":11,"l":"2:4","v":17},{"r":28,"c":12,"l":"2:20","v":18},{"r":28,"c":13,"l":"2:40","v":19},{"r":28,"c":14,"l":"2:42","v":20},{"r":28,"c":15,"l":"2:58","v":20},{"r":28,"c":16,"l":"2:56","v":20},{"r":28,"c":17,"l":"4:6","v":20},{"r":28,"c":18,"l":"4:5","v":18},{"r":28,"c":19,"l":"4:4","v":17},{"r":28,"c":20,"l":"4:20","v":16},{"r":28,"c":21,"l":"4:40","v":15},{"r":28,"c":22,"l":"4:42","v":14},{"r":28,"c":23,"l":"4:58","v":13},{"r":28,"c":24,"l":"4:56","v":13},{"r":28,"c":25,"l":"6:6","v":11},{"r":28,"c":26,"l":"6:5","v":11},{"r":28,"c":27,"l":"6:4","v":10},{"r":28,"c":28,"l":"6:20","v":10},{"r":28,"c":29,"l":"6:40","v":10},{"r":28,"c":30,"l":"6:42","v":10},{"r":28,"c":31,"l":"6:58","v":10},{"r":28,"c":32,"l":"6:56","v":10},
{"r":29,"c":1,"l":"0:21","v":10},{"r":29,"c":2,"l":"0:12","v":10},{"r":29,"c":3,"l":"0:18","v":10},{"r":29,"c":4,"l":"0:30","v":11},{"r":29,"c":5,"l":"0:36","v":11},{"r":29,"c":6,"l":"0:48","v":11},{"r":29,"c":7,"l":"0:54","v":12},{"r":29,"c":8,"l":"0:39","v":14},{"r":29,"c":9,"l":"2:21","v":14},{"r":29,"c":10,"l":"2:12","v":15},{"r":29,"c":11,"l":"2:18","v":16},{"r":29,"c":12,"l":"2:30","v":17},{"r":29,"c":13,"l":"2:36","v":17},{"r":29,"c":14,"l":"2:48","v":18},{"r":29,"c":15,"l":"2:54","v":18},{"r":29,"c":16,"l":"2:39","v":18},{"r":29,"c":17,"l":"4:21","v":17},{"r":29,"c":18,"l":"4:12","v":16},{"r":29,"c":19,"l":"4:18","v":15},{"r":29,"c":20,"l":"4:30","v":14},{"r":29,"c":21,"l":"4:36","v":13},{"r":29,"c":22,"l":"4:48","v":13},{"r":29,"c":23,"l":"4:54","v":12},{"r":29,"c":24,"l":"4:39","v":12},{"r":29,"c":25,"l":"6:21","v":11},{"r":29,"c":26,"l":"6:12","v":10},{"r":29,"c":27,"l":"6:18","v":10},{"r":29,"c":28,"l":"6:30","v":10},{"r":29,"c":29,"l":"6:36","v":10},{"r":29,"c":30,"l":"6:48","v":10},{"r":29,"c":31,"l":"6:54","v":10},{"r":29,"c":32,"l":"6:39","v":10},
{"r":30,"c":1,"l":"0:9","v":10},{"r":30,"c":2,"l":"0:3","v":10},{"r":30,"c":3,"l":"0:15","v":10},{"r":30,"c":4,"l":"0:27","v":10},{"r":30,"c":5,"l":"0:33","v":11},{"r":30,"c":6,"l":"0:45","v":11},{"r":30,"c":7,"l":"0:50","v":12},{"r":30,"c":8,"l":"0:60","v":13},{"r":30,"c":9,"l":"2:9","v":13},{"r":30,"c":11,"l":"2:15","v":15},{"r":30,"c":12,"l":"2:27","v":15},{"r":30,"c":13,"l":"2:33","v":16},{"r":30,"c":14,"l":"2:45","v":16},{"r":30,"c":15,"l":"2:50","v":16},{"r":30,"c":16,"l":"2:60","v":16},{"r":30,"c":17,"l":"4:9","v":15},{"r":30,"c":18,"l":"4:3","v":14},{"r":30,"c":19,"l":"4:15","v":13},{"r":30,"c":20,"l":"4:27","v":12},{"r":30,"c":21,"l":"4:33","v":12},{"r":30,"c":22,"l":"4:45","v":12},{"r":30,"c":23,"l":"4:50","v":11},{"r":30,"c":24,"l":"4:60","v":11},{"r":30,"c":25,"l":"6:9","v":10},{"r":30,"c":26,"l":"6:3","v":2},{"r":30,"c":27,"l":"6:15","v":10},{"r":30,"c":28,"l":"6:27","v":10},{"r":30,"c":29,"l":"6:33","v":10},{"r":30,"c":30,"l":"6:45","v":10},{"r":30,"c":31,"l":"6:50","v":10},{"r":30,"c":32,"l":"6:60","v":10},
{"r":31,"c":1,"l":"0:10","v":10},{"r":31,"c":2,"l":"0:22","v":10},{"r":31,"c":3,"l":"0:13","v":10},{"r":31,"c":4,"l":"0:28","v":10},{"r":31,"c":5,"l":"0:32","v":10},{"r":31,"c":6,"l":"0:41","v":11},{"r":31,"c":7,"l":"0:44","v":11},{"r":31,"c":8,"l":"0:53","v":12},{"r":31,"c":9,"l":"2:10","v":12},{"r":31,"c":10,"l":"2:22","v":13},{"r":31,"c":11,"l":"2:13","v":14},{"r":31,"c":12,"l":"2:28","v":14},{"r":31,"c":13,"l":"2:32","v":15},{"r":31,"c":14,"l":"2:41","v":15},{"r":31,"c":15,"l":"2:44","v":15},{"r":31,"c":16,"l":"2:53","v":15},{"r":31,"c":17,"l":"4:10","v":13},{"r":31,"c":18,"l":"4:22","v":12},{"r":31,"c":19,"l":"4:13","v":12},{"r":31,"c":20,"l":"4:28","v":11},{"r":31,"c":21,"l":"4:32","v":11},{"r":31,"c":22,"l":"4:41","v":11},{"r":31,"c":23,"l":"4:44","v":10},{"r":31,"c":24,"l":"4:53","v":10},{"r":31,"c":25,"l":"6:10","v":10},{"r":31,"c":26,"l":"6:22","v":10},{"r":31,"c":27,"l":"6:13","v":10},{"r":31,"c":28,"l":"6:28","v":10},{"r":31,"c":29,"l":"6:32","v":10},{"r":31,"c":30,"l":"6:41","v":10},{"r":31,"c":31,"l":"6:44","v":10},{"r":31,"c":32,"l":"6:53","v":10},
{"r":32,"c":1,"l":"0:16","v":10},{"r":32,"c":2,"l":"0:7","v":10},{"r":32,"c":3,"l":"0:19","v":10},{"r":32,"c":4,"l":"0:25","v":10},{"r":32,"c":5,"l":"0:31","v":10},{"r":32,"c":6,"l":"0:35","v":10},{"r":32,"c":7,"l":"0:38","v":11},{"r":32,"c":8,"l":"0:47","v":12},{"r":32,"c":9,"l":"2:16","v":11},{"r":32,"c":10,"l":"2:7","v":12},{"r":32,"c":11,"l":"2:19","v":13},{"r":32,"c":12,"l":"2:25","v":13},{"r":32,"c":13,"l":"2:31","v":14},{"r":32,"c":14,"l":"2:35","v":14},{"r":32,"c":15,"l":"2:38","v":14},{"r":32,"c":16,"l":"2:47","v":14},{"r":32,"c":17,"l":"4:16","v":12},{"r":32,"c":18,"l":"4:7","v":11},{"r":32,"c":19,"l":"4:19","v":11},{"r":32,"c":20,"l":"4:25","v":10},{"r":32,"c":21,"l":"4:31","v":10},{"r":32,"c":22,"l":"4:35","v":10},{"r":32,"c":23,"l":"4:38","v":10},{"r":32,"c":24,"l":"4:47","v":10},{"r":32,"c":25,"l":"6:16","v":10},{"r":32,"c":26,"l":"6:7","v":10},{"r":32,"c":27,"l":"6:19","v":10},{"r":32,"c":28,"l":"6:25","v":10},{"r":32,"c":29,"l":"6:31","v":10},{"r":32,"c":30,"l":"6:35","v":10},{"r":32,"c":31,"l":"6:38","v":10},{"r":32,"c":32,"l":"6:47","v":10}
    ]
  },
  "layer": [
    {
      "data": {"values": [{}]},
      "mark": {"type": "rule", "color": "#ffffff", "strokeWidth": 6},
      "encoding": {
        "x": {"datum": 0, "type": "quantitative"},
        "y": {"datum": -88.7, "type": "quantitative"},
        "y2": {"datum": 88.7}
      }
    },
    {
      "data": {"values": [{}]},
      "mark": {"type": "rule", "color": "#ffffff", "strokeWidth": 5},
      "encoding": {
        "y": {"datum": 0, "type": "quantitative"},
        "x": {"datum": -16.18, "type": "quantitative"},
        "x2": {"datum": 16.18}
      }
    },
    {
      "data": {"name": "cells"},
      "transform": [
        {"lookup": "r", "from": {"data": {"name": "rows"}, "key": "r", "fields": ["y"]}},
        {"lookup": "c", "from": {"data": {"name": "cols"}, "key": "c", "fields": ["x"]}}
      ],
      "layer": [
        {
          "mark": {"type": "point", "shape": "M-1,-0.706H1V0.706H-1Z", "size": 415, "filled": true, "opacity": 1, "stroke": "#000000", "strokeOpacity": 0.12, "strokeWidth": 0.6},
          "encoding": {
            "x": {"field": "x", "type": "quantitative", "scale": {"domain": [-17.8, 17.8], "nice": false, "zero": false},
                  "axis": {"values": [0], "labels": false, "ticks": false, "domain": false, "title": null, "grid": true, "gridColor": "#ffffff", "gridWidth": 1.1}},
            "y": {"field": "y", "type": "quantitative", "scale": {"domain": [-97.57, 97.57], "nice": false, "zero": false},
                  "axis": {"values": [-75, -50, -25, 0, 25, 50, 75],
                           "labelExpr": "datum.value % 50 === 0 ? '' + datum.value : ''",
                           "title": "Y", "grid": true, "gridColor": "#ffffff",
                           "gridWidth": {"condition": {"test": "datum.value % 50 === 0", "value": 1.1}, "value": 0.55},
                           "domain": false, "tickColor": "#333333", "tickSize": 3, "tickWidth": 1.1,
                           "tickOpacity": {"condition": {"test": "datum.value % 50 === 0", "value": 1}, "value": 0},
                           "labelColor": "#4d4d4d", "labelFont": "Liberation Sans", "labelFontSize": 9, "labelPadding": 1.5,
                           "titleFont": "Liberation Sans", "titleFontSize": 11, "titleFontWeight": "normal", "titleColor": "#000000", "titlePadding": 0}},
            "fill": {"field": "v", "type": "quantitative", "scale": {"domain": [0, 100], "range": ["#00f200", "#f80000"], "interpolate": "lab"}, "legend": null}
          }
        },
        {
          "mark": {"type": "text", "font": "Liberation Sans", "fontSize": 7.8, "fill": "#000000"},
          "encoding": {
            "x": {"field": "x", "type": "quantitative"},
            "y": {"field": "y", "type": "quantitative"},
            "text": {"field": "l", "type": "nominal"},
            "opacity": {"condition": {"test": "datum.r > 16", "value": 0.5}, "value": 1}
          }
        }
      ]
    }
  ]
}
